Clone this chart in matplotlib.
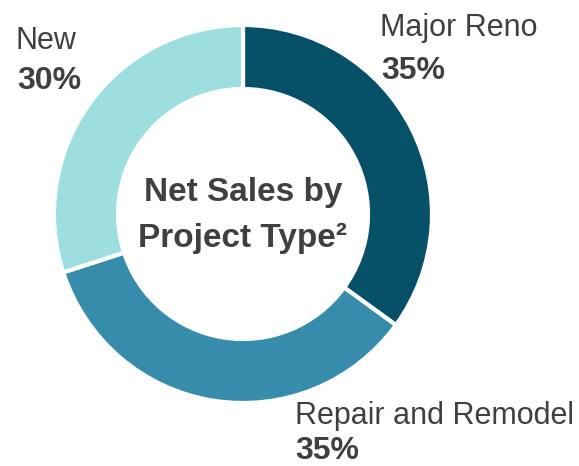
import matplotlib
matplotlib.use("Agg")
import matplotlib.pyplot as plt

categories = ["Major Reno", "Repair and Remodel", "New"]
shares = [35, 35, 30]
colors = ["#065068", "#378cab", "#9ddede"]

W, H = 579, 466
TXT = "#404040"
font = ["Liberation Sans", "DejaVu Sans"]

fig = plt.figure(figsize=(W / 100, H / 100), dpi=100)
ax = fig.add_axes([0, 0, 1, 1])
ax.set_xlim(0, W)
ax.set_ylim(0, H)
ax.set_aspect("equal")
ax.axis("off")

ax.pie(shares, colors=colors, startangle=90, counterclock=False,
       center=(243, H - 214), radius=189,
       wedgeprops=dict(width=64, edgecolor="white", linewidth=3))
ax.set_xlim(0, W)
ax.set_ylim(0, H)

# label positions (x, y in pixels from top-left)
label_pos = {"Major Reno": (380, 28), "Repair and Remodel": (295, 416), "New": (15, 41)}
pct_pos = {"Major Reno": (381, 71), "Repair and Remodel": (295, 451), "New": (17, 81)}
for cat, val in zip(categories, shares):
    x, y = label_pos[cat]
    ax.text(x, H - y, cat, ha="left", va="center", fontsize=22,
            color=TXT, family=font)
    x, y = pct_pos[cat]
    ax.text(x, H - y, f"{val}%", ha="left", va="center", fontsize=23,
            fontweight="bold", color=TXT, family=font)

ax.text(243, H - 193, "Net Sales by", ha="center", va="center", fontsize=24,
        fontweight="bold", color=TXT, family=font)
ax.text(243, H - 238, "Project Type²", ha="center", va="center", fontsize=24,
        fontweight="bold", color=TXT, family=font)

fig.savefig("out.png", dpi=100)
